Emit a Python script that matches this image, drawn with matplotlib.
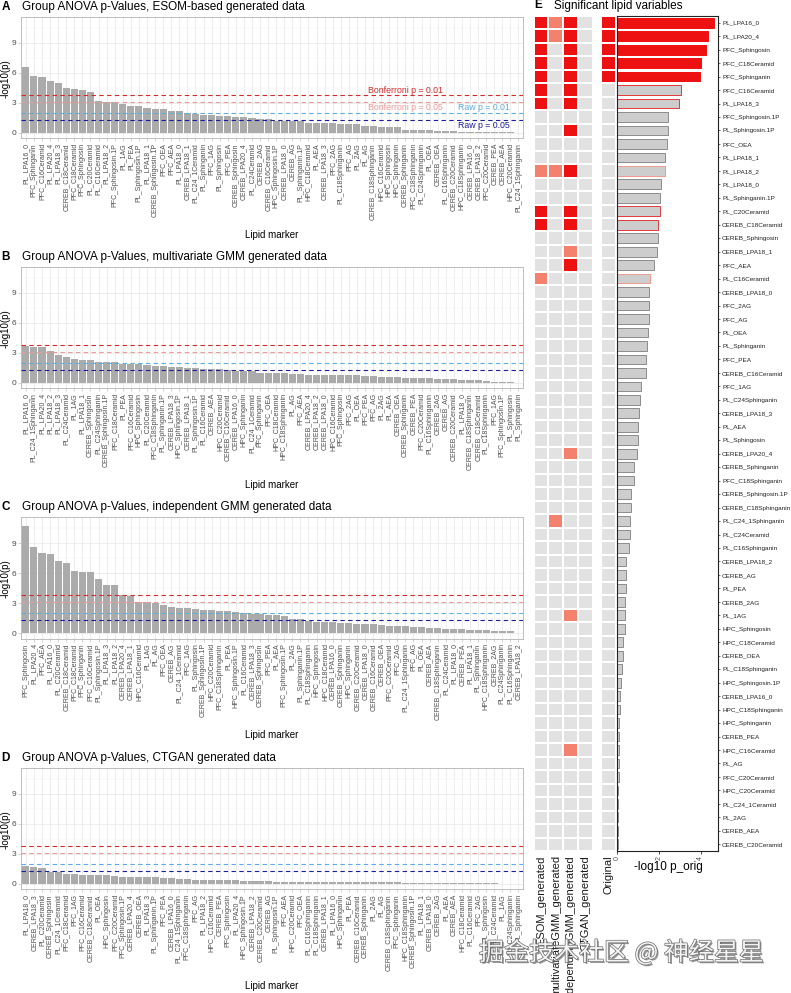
import numpy as np
import matplotlib
matplotlib.use("Agg")
import matplotlib.pyplot as plt
import matplotlib.patheffects as pe
from matplotlib.colors import ListedColormap

plt.rcParams["font.family"] = ["Liberation Sans", "DejaVu Sans"]

# ---- panel A: ESOM ----
names_a = ["PL_LPA16_0", "PFC_Sphinganin", "PFC_C16Ceramid", "PL_LPA20_4", "PL_LPA18_3",
           "CEREB_C18Ceramid", "PFC_C18Ceramid", "PFC_Sphingosin", "PL_C20Ceramid", "PL_C16Ceramid",
           "PL_LPA18_2", "PFC_Sphingosin.1P", "PL_1AG", "PL_PEA", "PL_Sphingosin.1P",
           "PL_LPA18_1", "CEREB_Sphingosin.1P", "PFC_OEA", "PFC_AEA", "PL_LPA18_0",
           "CEREB_LPA18_1", "PL_C24_1Ceramid", "PL_Sphinganin", "PFC_1AG", "PL_Sphingosin",
           "PFC_PEA", "CEREB_Sphingosin", "CEREB_LPA20_4", "PL_C24Ceramid", "CEREB_2AG",
           "CEREB_C16Ceramid", "HPC_Sphingosin.1P", "CEREB_LPA18_0", "CEREB_AG", "PL_Sphinganin.1P",
           "HPC_C18Ceramid", "PL_AEA", "CEREB_LPA18_3", "PFC_2AG", "PL_C18Sphinganin",
           "PFC_AG", "PL_2AG", "PL_AG", "CEREB_C18Sphinganin", "HPC_C16Ceramid",
           "HPC_Sphingosin", "HPC_Sphinganin", "CEREB_Sphinganin", "PFC_C18Sphinganin", "PL_C24Sphinganin",
           "PL_OEA", "CEREB_OEA", "PL_C16Sphinganin", "CEREB_C20Ceramid", "HPC_C18Sphinganin",
           "CEREB_LPA16_0", "CEREB_LPA18_2", "PFC_C20Ceramid", "CEREB_PEA", "CEREB_AEA",
           "HPC_C20Ceramid", "PL_C24_1Sphinganin"]
vals_a = [6.6, 5.67, 5.57, 5.2, 5.0, 4.5, 4.4, 4.23, 4.03, 3.17,
          3.1, 3.07, 2.9, 2.7, 2.63, 2.43, 2.37, 2.33, 2.2, 2.13,
          2.0, 1.9, 1.77, 1.73, 1.67, 1.63, 1.6, 1.53, 1.43, 1.37,
          1.33, 1.22, 1.2, 1.18, 1.15, 1.0, 0.97, 0.95, 0.93, 0.92,
          0.9, 0.88, 0.68, 0.64, 0.62, 0.6, 0.57, 0.3, 0.28, 0.27,
          0.25, 0.18, 0.16, 0.15, 0.1, 0.08, 0.07, 0.06, 0.05, 0.04,
          0.03, 0.02]

# ---- panel B: multivariate GMM ----
names_b = ["PL_LPA16_0", "PL_C24_1Sphinganin", "PL_LPA20_4", "PL_LPA18_2", "PL_LPA18_3",
           "PL_C24Ceramid", "PL_1AG", "PL_LPA18_1", "CEREB_Sphingosin", "PL_C24Sphinganin",
           "CEREB_Sphingosin.1P", "PFC_C18Ceramid", "PL_PEA", "PFC_C16Ceramid", "HPC_Sphingosin",
           "PL_C20Ceramid", "PFC_C18Sphinganin", "PL_Sphinganin.1P", "CEREB_LPA18_3", "HPC_Sphingosin.1P",
           "CEREB_LPA18_1", "PL_Sphingosin.1P", "PL_C16Ceramid", "CEREB_AEA", "HPC_C20Ceramid",
           "CEREB_C16Ceramid", "CEREB_LPA16_0", "HPC_Sphinganin", "PL_C24_1Ceramid", "PFC_Sphinganin",
           "PFC_OEA", "HPC_C18Ceramid", "HPC_C18Sphinganin", "PL_AG", "PFC_AEA",
           "CEREB_LPA20_4", "CEREB_LPA18_2", "CEREB_LPA18_0", "HPC_C16Ceramid", "PFC_Sphingosin",
           "PFC_2AG", "PL_OEA", "PFC_PEA", "PFC_AG", "PL_2AG",
           "PL_AEA", "CEREB_OEA", "CEREB_Sphinganin", "CEREB_PEA", "PFC_C20Ceramid",
           "PL_C16Sphinganin", "CEREB_2AG", "CEREB_AG", "CEREB_C20Ceramid", "PL_LPA18_0",
           "CEREB_C18Sphinganin", "CEREB_C18Ceramid", "PL_C18Sphinganin", "PFC_1AG", "PFC_Sphingosin.1P",
           "PL_Sphingosin", "PL_Sphinganin"]
vals_b = [3.7, 3.6, 3.53, 3.17, 2.77, 2.57, 2.34, 2.31, 2.24, 2.08,
          2.05, 2.05, 1.91, 1.82, 1.82, 1.72, 1.68, 1.62, 1.55, 1.52,
          1.45, 1.42, 1.39, 1.35, 1.32, 1.29, 1.16, 1.16, 1.12, 1.0,
          0.95, 0.93, 0.92, 0.9, 0.82, 0.8, 0.79, 0.78, 0.77, 0.76,
          0.74, 0.72, 0.64, 0.62, 0.6, 0.59, 0.57, 0.46, 0.44, 0.43,
          0.42, 0.41, 0.35, 0.32, 0.3, 0.28, 0.25, 0.15, 0.1, 0.05,
          0.03, 0.01]

# ---- panel C: independent GMM ----
names_c = ["PFC_Sphingosin", "PL_LPA20_4", "PFC_AEA", "PL_LPA16_0", "PL_C20Ceramid",
           "CEREB_C18Ceramid", "PFC_C18Ceramid", "PFC_Sphinganin", "PFC_C16Ceramid", "PL_Sphingosin.1P",
           "PL_LPA18_3", "PL_LPA18_2", "CEREB_LPA20_4", "CEREB_LPA18_1", "HPC_C16Ceramid",
           "PL_1AG", "PL_AG", "PFC_OEA", "CEREB_AG", "PL_C24_1Ceramid",
           "PFC_1AG", "PL_Sphingosin", "CEREB_Sphingosin.1P", "HPC_C20Ceramid", "PFC_C18Sphinganin",
           "PL_PEA", "HPC_Sphingosin.1P", "PL_C16Ceramid", "CEREB_LPA18_3", "CEREB_Sphingosin",
           "PFC_PEA", "PL_AEA", "PFC_Sphingosin.1P", "PL_2AG", "PL_Sphinganin.1P",
           "PL_C18Sphinganin", "HPC_Sphingosin", "HPC_C18Ceramid", "CEREB_LPA16_0", "CEREB_Sphinganin",
           "HPC_Sphinganin", "CEREB_C20Ceramid", "CEREB_LPA18_0", "CEREB_C16Ceramid", "CEREB_OEA",
           "PFC_C20Ceramid", "PFC_2AG", "PL_C24_1Sphinganin", "PFC_AG", "PL_OEA",
           "CEREB_AEA", "CEREB_C18Sphinganin", "PL_C24Ceramid", "PL_LPA18_0", "CEREB_PEA",
           "PL_LPA18_1", "PL_Sphinganin", "HPC_C18Sphinganin", "CEREB_2AG", "PL_C24Sphinganin",
           "PL_C16Sphinganin", "CEREB_LPA18_2"]
vals_c = [10.7, 8.6, 8.0, 7.9, 7.2, 6.96, 6.17, 6.14, 6.14, 5.38,
          4.82, 4.82, 3.83, 3.7, 3.14, 3.1, 3.0, 2.8, 2.6, 2.5,
          2.48, 2.38, 2.3, 2.28, 2.2, 2.18, 2.08, 2.05, 1.95, 1.88,
          1.82, 1.8, 1.72, 1.45, 1.4, 1.22, 1.15, 1.12, 1.1, 1.05,
          1.05, 0.92, 0.9, 0.86, 0.8, 0.7, 0.7, 0.66, 0.63, 0.6,
          0.53, 0.46, 0.4, 0.4, 0.36, 0.33, 0.3, 0.3, 0.23, 0.22,
          0.17, 0.05]

# ---- panel D: CTGAN ----
names_d = ["PL_LPA18_0", "CEREB_LPA18_3", "PL_C20Ceramid", "CEREB_Sphingosin", "PL_C24_1Ceramid",
           "PFC_C18Ceramid", "PFC_1AG", "PFC_C16Ceramid", "CEREB_C18Ceramid", "PL_OEA",
           "HPC_Sphingosin", "PFC_C20Ceramid", "PFC_Sphingosin.1P", "CEREB_LPA20_4", "CEREB_OEA",
           "PL_LPA18_3", "PL_Sphinganin.1P", "PFC_PEA", "CEREB_LPA16_0", "PL_C24_1Sphinganin",
           "PFC_C18Sphinganin", "PFC_AG", "PL_LPA18_2", "HPC_C16Ceramid", "CEREB_PEA",
           "PFC_Sphingosin", "PL_LPA20_4", "HPC_Sphingosin.1P", "CEREB_LPA18_2", "CEREB_C20Ceramid",
           "CEREB_AG", "PL_Sphingosin.1P", "PFC_AEA", "HPC_C20Ceramid", "PFC_OEA",
           "PL_C16Sphinganin", "PL_C18Sphinganin", "CEREB_LPA18_1", "PL_LPA16_0", "HPC_Sphinganin",
           "PL_PEA", "CEREB_C16Ceramid", "CEREB_Sphinganin", "PL_2AG", "PL_AG",
           "CEREB_C18Sphinganin", "PFC_Sphinganin", "HPC_C18Sphinganin", "CEREB_Sphingosin.1P", "PL_LPA18_1",
           "CEREB_LPA18_0", "CEREB_2AG", "PL_AEA", "CEREB_AEA", "HPC_C18Ceramid",
           "PL_C16Ceramid", "PFC_2AG", "PL_Sphingosin", "PL_C24Ceramid", "PL_1AG",
           "PL_C24Sphinganin", "PL_Sphinganin"]
vals_d = [1.78, 1.72, 1.62, 1.22, 1.19, 0.93, 0.93, 0.86, 0.86, 0.83,
          0.83, 0.76, 0.7, 0.7, 0.7, 0.68, 0.66, 0.58, 0.56, 0.52,
          0.5, 0.4, 0.36, 0.36, 0.35, 0.33, 0.33, 0.32, 0.3, 0.3,
          0.28, 0.22, 0.21, 0.2, 0.2, 0.19, 0.19, 0.18, 0.18, 0.17,
          0.17, 0.16, 0.16, 0.15, 0.15, 0.13, 0.13, 0.12, 0.12, 0.11,
          0.1, 0.1, 0.06, 0.05, 0.05, 0.04, 0.04, 0.03, 0.03, 0.02,
          0.02, 0.01]

# ---- panel E: original p-values + significance map ----
names_e = ["PL_LPA16_0", "PL_LPA20_4", "PFC_Sphingosin", "PFC_C18Ceramid", "PFC_Sphinganin",
           "PFC_C16Ceramid", "PL_LPA18_3", "PFC_Sphingosin.1P", "PL_Sphingosin.1P", "PFC_OEA",
           "PL_LPA18_1", "PL_LPA18_2", "PL_LPA18_0", "PL_Sphinganin.1P", "PL_C20Ceramid",
           "CEREB_C18Ceramid", "CEREB_Sphingosin", "CEREB_LPA18_1", "PFC_AEA", "PL_C16Ceramid",
           "CEREB_LPA18_0", "PFC_2AG", "PFC_AG", "PL_OEA", "PL_Sphinganin",
           "PFC_PEA", "CEREB_C16Ceramid", "PFC_1AG", "PL_C24Sphinganin", "CEREB_LPA18_3",
           "PL_AEA", "PL_Sphingosin", "CEREB_LPA20_4", "CEREB_Sphinganin", "PFC_C18Sphinganin",
           "CEREB_Sphingosin.1P", "CEREB_C18Sphinganin", "PL_C24_1Sphinganin", "PL_C24Ceramid", "PL_C16Sphinganin",
           "CEREB_LPA18_2", "CEREB_AG", "PL_PEA", "CEREB_2AG", "PL_1AG",
           "HPC_Sphingosin", "HPC_C18Ceramid", "CEREB_OEA", "PL_C18Sphinganin", "HPC_Sphingosin.1P",
           "CEREB_LPA16_0", "HPC_C18Sphinganin", "HPC_Sphinganin", "CEREB_PEA", "HPC_C16Ceramid",
           "PL_AG", "PFC_C20Ceramid", "HPC_C20Ceramid", "PL_C24_1Ceramid", "PL_2AG",
           "CEREB_AEA", "CEREB_C20Ceramid"]
vals_e = [4.62, 4.35, 4.27, 4.02, 3.97, 3.06, 2.98, 2.45, 2.43, 2.38,
          2.29, 2.27, 2.1, 2.05, 2.03, 1.97, 1.94, 1.9, 1.78, 1.55,
          1.54, 1.53, 1.52, 1.49, 1.42, 1.39, 1.38, 1.15, 1.09, 1.06,
          0.99, 0.99, 0.96, 0.8, 0.8, 0.67, 0.66, 0.61, 0.61, 0.56,
          0.43, 0.42, 0.42, 0.38, 0.38, 0.37, 0.29, 0.29, 0.21, 0.19,
          0.13, 0.11, 0.1, 0.1, 0.08, 0.06, 0.06, 0.05, 0.05, 0.03,
          0.02, 0.02]
# 0 = not significant, 1 = Bonferroni p < 0.05, 2 = Bonferroni p < 0.01
sig_esom = [2, 2, 2, 2, 2, 2, 2, 0, 0, 0, 0, 1, 0, 0, 2, 2, 0, 0, 0, 1,
            0, 0, 0, 0, 0, 0, 0, 0, 0, 0, 0, 0, 0, 0, 0, 0, 0, 0, 0, 0,
            0, 0, 0, 0, 0, 0, 0, 0, 0, 0, 0, 0, 0, 0, 0, 0, 0, 0, 0, 0,
            0, 0]
sig_multi = [1, 1, 0, 0, 0, 0, 0, 0, 0, 0, 0, 1, 0, 0, 0, 0, 0, 0, 0, 0,
             0, 0, 0, 0, 0, 0, 0, 0, 0, 0, 0, 0, 0, 0, 0, 0, 0, 1, 0, 0,
             0, 0, 0, 0, 0, 0, 0, 0, 0, 0, 0, 0, 0, 0, 0, 0, 0, 0, 0, 0,
             0, 0]
sig_indep = [2, 2, 2, 2, 2, 2, 2, 0, 2, 0, 0, 2, 0, 0, 2, 2, 0, 1, 2, 0,
             0, 0, 0, 0, 0, 0, 0, 0, 0, 0, 0, 0, 1, 0, 0, 0, 0, 0, 0, 0,
             0, 0, 0, 0, 1, 0, 0, 0, 0, 0, 0, 0, 0, 0, 1, 0, 0, 0, 0, 0,
             0, 0]
sig_ctgan = [0] * 62
sig_orig = [2, 2, 2, 2, 2, 0, 0, 0, 0, 0, 0, 0, 0, 0, 0, 0, 0, 0, 0, 0,
            0, 0, 0, 0, 0, 0, 0, 0, 0, 0, 0, 0, 0, 0, 0, 0, 0, 0, 0, 0,
            0, 0, 0, 0, 0, 0, 0, 0, 0, 0, 0, 0, 0, 0, 0, 0, 0, 0, 0, 0,
            0, 0]
heat_labels = ["ESOM_generated", "multivariateGMM_generated",
               "independentGMM_generated", "CTGAN_generated"]

n_tests = 62
thr_vals = [-np.log10(0.01 / n_tests), -np.log10(0.05 / n_tests), -np.log10(0.01), -np.log10(0.05)]
thr_cols = ["#D22B2B", "#EE9A9A", "#5BAEE0", "#1E1E9C"]
thr_text = ["Bonferroni p = 0.01", "Bonferroni p = 0.05", "Raw p = 0.01", "Raw p = 0.05"]

W, H = 791, 993
fig = plt.figure(figsize=(W / 100, H / 100), dpi=100)


def add_ax(l, t, r, b):
    return fig.add_axes([l / W, 1 - b / H, (r - l) / W, (b - t) / H])


def fx(px):
    return px / W


def fy(py):
    return 1 - py / H


def anova_panel(top, letter, title, names, vals, annotate=False):
    ax = add_ax(21, top, 523.3, top + 121.5)
    x = np.arange(1, len(vals) + 1)
    ax.bar(x, vals, width=0.88, color="#ABABAB", zorder=2)
    for yv, col in zip(thr_vals, thr_cols):
        ax.axhline(yv, color=col, lw=0.8, ls=(0, (4, 3)), zorder=3)
    if annotate:
        ax.text(43.35, 4.27, thr_text[0], color=thr_cols[0], fontsize=6.3, va="center", zorder=4)
        ax.text(43.35, 2.57, thr_text[1], color=thr_cols[1], fontsize=6.3, va="center", zorder=4)
        ax.text(54.5, 2.57, thr_text[2], color=thr_cols[2], fontsize=6.3, va="center", zorder=4)
        ax.text(54.5, 0.77, thr_text[3], color=thr_cols[3], fontsize=6.3, va="center", zorder=4)
    ax.set_xlim(0.4, len(vals) + 0.6)
    ax.set_ylim(-0.55, 11.6)
    ax.set_yticks([0, 3, 6, 9])
    ax.set_yticks([1.5, 4.5, 7.5, 10.5], minor=True)
    ax.set_xticks(x)
    ax.set_xticklabels(names, rotation=90, fontsize=5, color="#4D4D4D")
    ax.tick_params(axis="x", length=2, width=0.4, color="#B3B3B3", pad=1.5)
    ax.tick_params(axis="y", which="major", labelsize=6, labelcolor="#4D4D4D",
                   length=2, width=0.4, color="#B3B3B3", pad=1.5)
    ax.tick_params(axis="y", which="minor", length=0)
    ax.grid(which="major", color="#E6E6E6", lw=0.5)
    ax.grid(which="minor", axis="y", color="#F2F2F2", lw=0.35)
    ax.set_axisbelow(True)
    for s in ax.spines.values():
        s.set_color("#B3B3B3")
        s.set_linewidth(0.6)
    fig.text(fx(1.5), fy(top - 10), letter, fontweight="bold", fontsize=8.5, va="center")
    fig.text(fx(21.7), fy(top - 10), title, fontsize=8.5, va="center")
    fig.text(fx(5.5), fy(top + 62), "-log10(p)", fontsize=7, rotation=90, ha="center", va="center")
    fig.text(fx(272), fy(top + 218), "Lipid marker", fontsize=7, ha="center", va="center")


anova_panel(16.7, "A", "Group ANOVA p-Values, ESOM-based generated data", names_a, vals_a, annotate=True)
anova_panel(266.7, "B", "Group ANOVA p-Values, multivariate GMM generated data", names_b, vals_b)
anova_panel(517.0, "C", "Group ANOVA p-Values, independent GMM generated data", names_c, vals_c)
anova_panel(767.7, "D", "Group ANOVA p-Values, CTGAN generated data", names_d, vals_d)

# panel E
sig_cmap = ListedColormap(["#E2E2E2", "#F4806E", "#EE1111"])
n = len(names_e)

axh = add_ax(533.5, 16, 593.1, 851)
heat = np.array([sig_esom, sig_multi, sig_indep, sig_ctgan]).T
axh.pcolormesh(np.arange(5) + 0.5, np.arange(n + 1) + 0.5, heat, cmap=sig_cmap,
               vmin=-0.5, vmax=2.5, edgecolors="white", linewidth=1.1)
axh.set_ylim(n + 0.5, 0.5)
axh.set_xlim(0.5, 4.5)
axh.set_xticks([1, 2, 3, 4])
axh.set_xticklabels(heat_labels, rotation=90, fontsize=8, color="#1A1A1A")
axh.tick_params(axis="x", length=0, pad=3)
axh.set_yticks([])
for s in axh.spines.values():
    s.set_visible(False)

axo = add_ax(600.5, 16, 615.5, 851)
axo.pcolormesh(np.array([0.5, 1.5]), np.arange(n + 1) + 0.5, np.array(sig_orig).reshape(-1, 1),
               cmap=sig_cmap, vmin=-0.5, vmax=2.5, edgecolors="white", linewidth=1.1)
axo.set_ylim(n + 0.5, 0.5)
axo.set_xlim(0.5, 1.5)
axo.set_xticks([1])
axo.set_xticklabels(["Original"], rotation=90, fontsize=8, color="#1A1A1A")
axo.tick_params(axis="x", length=0, pad=3)
axo.set_yticks([])
for s in axo.spines.values():
    s.set_visible(False)

axb = add_ax(617.3, 16, 718.3, 851)
edge_map = {0: "#8C8C8C", 1: "#F09A90", 2: "#E03A3A"}
yy = np.arange(1, n + 1)
fills = ["#EE1111" if s == 2 else "#CDCDCD" for s in sig_orig]
edges = ["#EE1111" if so == 2 else edge_map[se] for so, se in zip(sig_orig, sig_esom)]
axb.barh(yy, vals_e, height=0.72, color=fills, edgecolor=edges, linewidth=0.7)
axb.set_ylim(n + 0.5, 0.5)
axb.set_xlim(0, 4.85)
axb.set_xticks([0, 2, 4])
axb.set_xticklabels(["0", "2", "4"], rotation=90, fontsize=5, color="#4D4D4D")
axb.tick_params(axis="x", length=2, width=0.5, pad=1.5)
axb.yaxis.tick_right()
axb.set_yticks(yy)
axb.set_yticklabels(names_e, fontsize=4.6, color="#222222")
axb.tick_params(axis="y", length=1.2, width=0.4, pad=1.5)
for s in axb.spines.values():
    s.set_color("#222222")
    s.set_linewidth(0.8)
fig.text(fx(668), fy(867), "-log10 p_orig", fontsize=8.5, ha="center", va="center")
fig.text(fx(534), fy(5.5), "E", fontweight="bold", fontsize=8.5, va="center")
fig.text(fx(554), fy(5.5), "Significant lipid variables", fontsize=8.5, va="center")

# watermark
wm = fig.text(fx(479), fy(953), "掘金技术社区 @ 神经星星", fontsize=18,
              family=["Noto Sans CJK SC", "DejaVu Sans"], color="#F4F4F4", va="center", zorder=10)
wm.set_path_effects([pe.SimplePatchShadow(offset=(1.2, -1.2), shadow_rgbFace="#666666", alpha=0.7),
                     pe.Stroke(linewidth=1.0, foreground="#6A6A6A"), pe.Normal()])

fig.savefig("out.png", dpi=100)
